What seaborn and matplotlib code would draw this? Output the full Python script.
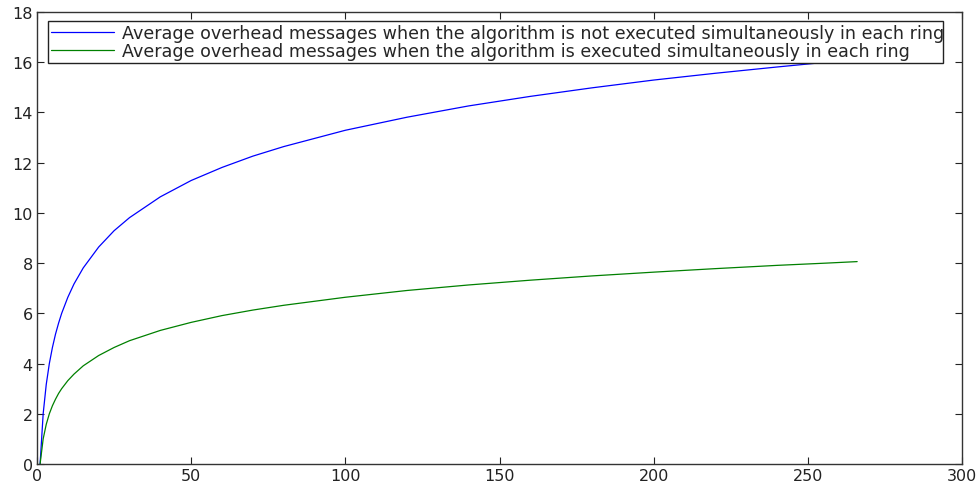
import numpy as np
import pandas as pd
import matplotlib
matplotlib.use('Agg')
import matplotlib.pyplot as plt
import seaborn as sns

# values
ring_size = [1, 2, 3, 4, 5, 6, 7, 8, 10, 12, 15, 20, 25, 30, 40, 50, 60, 70, 80,
             100, 120, 140, 160, 180, 200, 220, 240, 256, 266]
not_simultaneous = [0, 2.0, 3.17, 4.0, 4.64, 5.17, 5.61, 6.0, 6.64, 7.17, 7.81, 8.64, 9.29,
                    9.81, 10.64, 11.29, 11.81, 12.26, 12.64, 13.29, 13.81, 14.26, 14.64,
                    14.98, 15.29, 15.56, 15.81, 16.0, 16.11]
simultaneous = [0, 1.0, 1.58, 2.0, 2.32, 2.58, 2.81, 3.0, 3.32, 3.58, 3.91, 4.32, 4.64,
                4.91, 5.32, 5.64, 5.91, 6.13, 6.32, 6.64, 6.91, 7.13, 7.32, 7.49, 7.64,
                7.78, 7.91, 8.0, 8.06]

labels = ['Average overhead messages when the algorithm is not executed simultaneously in each ring',
          'Average overhead messages when the algorithm is executed simultaneously in each ring']

df = pd.DataFrame({
    'x': ring_size * 2,
    'y': not_simultaneous + simultaneous,
    'series': [labels[0]] * len(ring_size) + [labels[1]] * len(ring_size),
})

sns.set_style('ticks')
plt.rcParams['font.family'] = ['DejaVu Sans']

fig = plt.figure(figsize=(9.8, 4.89), dpi=100)
ax = fig.add_axes([37 / 980, 1 - 465 / 489, (962 - 37) / 980, (465 - 13) / 489])

sns.lineplot(data=df, x='x', y='y', hue='series', palette=['#0000ff', '#008000'],
             linewidth=0.9, ax=ax, legend=True)

ax.set_xlim(0, 300)
ax.set_ylim(0, 18)
ax.set_xticks(range(0, 301, 50))
ax.set_yticks(range(0, 19, 2))
ax.set_xlabel('')
ax.set_ylabel('')
ax.tick_params(direction='in', top=True, right=True, length=5, width=0.8,
               labelsize=11.5, colors='#222222', pad=3)
for s in ax.spines.values():
    s.set_linewidth(1.0)
    s.set_color('#333333')

# legend box: x 48..943 px, y 22..63 px in the reference
leg = ax.legend(loc='upper left', mode='expand',
                bbox_to_anchor=(11 / 925, 1 - 9 / 452, 895 / 925, 0),
                frameon=True, fancybox=False, framealpha=1, edgecolor='#222222',
                fontsize=12.6, borderpad=0.15, labelspacing=0.05, handlelength=3.6,
                handletextpad=0.45, borderaxespad=0)
leg.get_frame().set_linewidth(1.0)
leg.set_zorder(5)

plt.savefig('out.png', dpi=100)
